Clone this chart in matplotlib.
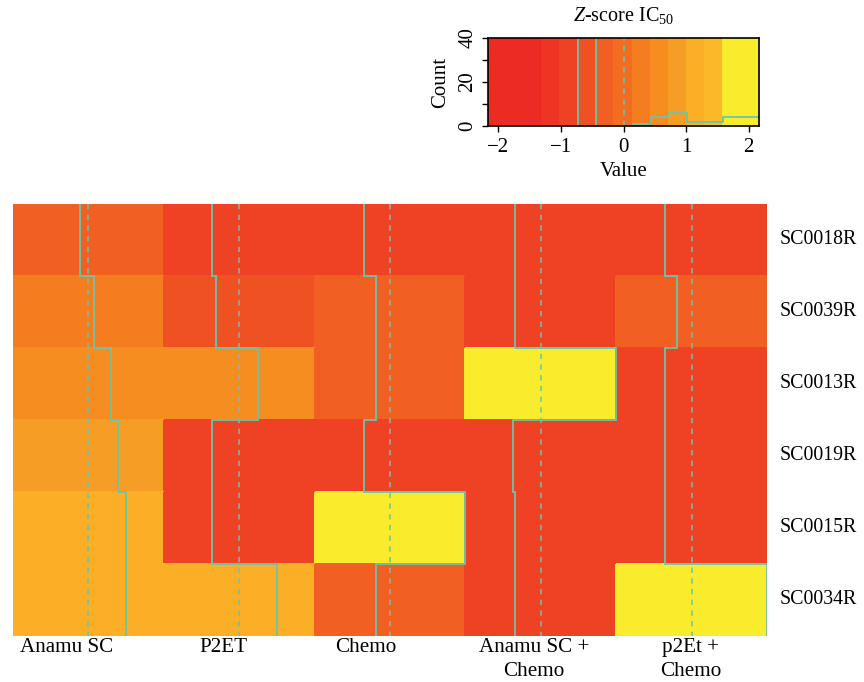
import numpy as np
import matplotlib
matplotlib.use("Agg")
import matplotlib.pyplot as plt
from matplotlib.colors import ListedColormap, BoundaryNorm

plt.rcParams['font.family'] = ['Liberation Serif', 'DejaVu Serif']
plt.rcParams['mathtext.fontset'] = 'custom'
plt.rcParams['mathtext.rm'] = 'Liberation Serif'
plt.rcParams['mathtext.it'] = 'Liberation Serif:italic'

# ---------------- data ----------------
treatments = ["Anamu SC", "P2ET", "Chemo", "Anamu SC +\nChemo", "p2Et +\nChemo"]
samples = ["SC0018R", "SC0039R", "SC0013R", "SC0019R", "SC0015R", "SC0034R"]

anamu_sc = [-0.23, 0.16, 0.64, 0.86, 1.08, 1.08]
p2et = [-0.77, -0.67, 0.55, -0.77, -0.77, 1.07]
chemo = [-0.75, -0.41, -0.41, -0.75, 2.16, -0.41]
anamu_chemo = [-0.75, -0.75, 2.16, -0.80, -0.75, -0.75]
p2et_chemo = [-0.75, -0.41, -0.75, -0.75, -0.75, 2.16]

# colour key breaks and colours (15 bins)
key_min, key_max = -2.16, 2.16
n_bins = 15
key_colors = ["#EC2B24", "#EC2B24", "#EC2B24", "#EE3524", "#EF4224",
              "#F05123", "#F16022", "#F36D21", "#F47D20", "#F58D21",
              "#F69D26", "#FAAF27", "#FBB92A", "#F8EC2C", "#F8EC2C"]
# histogram counts shown in the colour key
key_counts = [0, 0, 0, 0, 0, 42, 0, 0, 1, 4, 6, 2, 2, 4, 4]

trace_col = "#6CC4AA"

# ---------------- figure ----------------
W, H = 864, 682
fig = plt.figure(figsize=(W / 100, H / 100), dpi=100)

breaks = np.linspace(key_min, key_max, n_bins + 1)
cmap = ListedColormap(key_colors)
norm = BoundaryNorm(breaks, cmap.N)

# heatmap
hx0, hx1, hy0, hy1 = 13, 767, 204, 636
hm = fig.add_axes([hx0 / W, 1 - hy1 / H, (hx1 - hx0) / W, (hy1 - hy0) / H])
Z = np.column_stack([anamu_sc, p2et, chemo, anamu_chemo, p2et_chemo])
nrow, ncol = Z.shape
hm.pcolormesh(np.arange(ncol + 1), np.arange(nrow + 1), Z, cmap=cmap, norm=norm,
              edgecolors='face', linewidth=0.3)
hm.set_xlim(0, ncol)
hm.set_ylim(nrow, 0)
for s in hm.spines.values():
    s.set_visible(False)
hm.set_xticks([])
hm.set_yticks([])

# traces
for j in range(ncol):
    sc = (Z[:, j] - key_min) / (key_max - key_min)
    px, py = [], []
    for i in range(nrow):
        px += [j + sc[i], j + sc[i]]
        py += [i, i + 1]
    hm.plot(px, py, color=trace_col, lw=1.3, solid_joinstyle='miter')
    v0 = j + (0 - key_min) / (key_max - key_min)
    hm.plot([v0, v0], [0, nrow], color=trace_col, lw=1.1, ls=(0, (3.5, 3.5)))

# row labels
for i, s in enumerate(samples):
    hm.text(5.086, i + 0.5, s, ha='left', va='center', fontsize=14.3)

# column labels (centres)
col_label_x = [0.355, 1.393, 2.341, 3.455, 4.496]
for x, t in zip(col_label_x, treatments):
    hm.text(x, nrow + 0.03, t, ha='center', va='top', fontsize=15.2,
            linespacing=1.35)

# colour key
kx0, kx1, ky0, ky1 = 488.3, 758.7, 38, 126
key = fig.add_axes([kx0 / W, 1 - ky1 / H, (kx1 - kx0) / W, (ky1 - ky0) / H])
centers = (breaks[:-1] + breaks[1:]) / 2
key.pcolormesh(breaks, [0, 40], centers[None, :], cmap=cmap, norm=norm,
               edgecolors='face', linewidth=0.3)
key.step(breaks, np.append(key_counts, key_counts[-1]), where='post',
         color=trace_col, lw=1.3)
key.plot([0, 0], [0, 40], color=trace_col, lw=1.1, ls=(0, (3.5, 3.5)))
key.set_xlim(key_min, key_max)
key.set_ylim(0, 40)
for s in key.spines.values():
    s.set_linewidth(1.2)
    s.set_color('black')
key.set_xticks([-2, -1, 0, 1, 2])
key.set_xticklabels(["\u22122", "\u22121", "0", "1", "2"])
key.set_yticks([0, 10, 20, 30, 40])
key.set_yticklabels(["0", "", "20", "", "40"], rotation=90, va='center')
key.tick_params(axis='both', labelsize=15, length=4, width=1, direction='out')
key.tick_params(axis='x', pad=5)
key.tick_params(axis='y', pad=4)
key.set_xlabel("Value", fontsize=15, labelpad=3)
key.set_ylabel("Count", fontsize=15, labelpad=6)
key.set_title(r"$\it{Z}$-score IC$_{50}$", fontsize=14.5, pad=12)

fig.savefig("out.png", dpi=100)
